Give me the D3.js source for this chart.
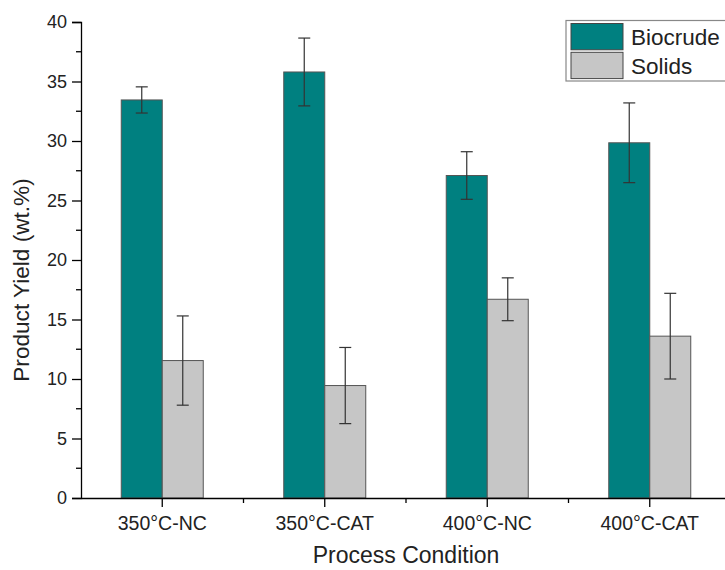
<!DOCTYPE html>
<html>
<head>
<meta charset="utf-8">
<script src="https://cdn.jsdelivr.net/npm/d3@7"></script>
<style>
  html, body { margin: 0; padding: 0; background: #fff; }
  svg { display: block; font-family: "Liberation Sans", Arial, sans-serif; }
  svg text { font-family: "Liberation Sans", Arial, sans-serif; }
</style>
</head>
<body>
<svg id="chart" width="725" height="570"></svg>
<script>
const categories = ["350°C-NC", "350°C-CAT", "400°C-NC", "400°C-CAT"];
const seriesNames = ["Biocrude", "Solids"];
const biocrude = [33.45, 35.8, 27.1, 29.85];
const biocrudeErr = [1.1, 2.85, 2.0, 3.35];
const solids = [11.55, 9.45, 16.7, 13.6];
const solidsErr = [3.75, 3.2, 1.8, 3.6];
const yTicks = [0, 5, 10, 15, 20, 25, 30, 35, 40];
const colors = ["#008080", "#c6c6c6"];

(function () {
const svg = d3.select("#chart");
const mLeft = 81, mTop = 22, mBottom = 498;
const band = 162.5;
const mRight = mLeft + band * categories.length;

const y = d3.scaleLinear().domain([0, 40]).range([mBottom, mTop]);
const x = d3.scaleBand().domain(categories).range([mLeft, mRight]).paddingInner(0).paddingOuter(0);
const groupW = 82;
const xs = d3.scaleBand().domain(seriesNames).range([0, groupW]).padding(0);

const data = categories.map((c, i) => ({
  cat: c,
  vals: [
    { s: seriesNames[0], v: biocrude[i], e: biocrudeErr[i] },
    { s: seriesNames[1], v: solids[i], e: solidsErr[i] }
  ]
}));

const groups = svg.append("g").selectAll("g").data(data).join("g")
  .attr("transform", d => `translate(${x(d.cat) + x.bandwidth() / 2 - groupW / 2},0)`);

groups.selectAll("rect").data(d => d.vals).join("rect")
  .attr("x", d => xs(d.s))
  .attr("y", d => y(d.v))
  .attr("width", xs.bandwidth())
  .attr("height", d => y(0) - y(d.v))
  .attr("fill", (d, i) => colors[i])
  .attr("stroke", "#555")
  .attr("stroke-width", 1);

// error bars
const eb = groups.selectAll("g.err").data(d => d.vals).join("g").attr("class", "err")
  .attr("stroke", "#333").attr("stroke-width", 1.2);
eb.append("line")
  .attr("x1", d => xs(d.s) + xs.bandwidth() / 2)
  .attr("x2", d => xs(d.s) + xs.bandwidth() / 2)
  .attr("y1", d => y(d.v + d.e))
  .attr("y2", d => y(d.v - d.e));
eb.append("line")
  .attr("x1", d => xs(d.s) + xs.bandwidth() / 2 - 6)
  .attr("x2", d => xs(d.s) + xs.bandwidth() / 2 + 6)
  .attr("y1", d => y(d.v + d.e))
  .attr("y2", d => y(d.v + d.e));
eb.append("line")
  .attr("x1", d => xs(d.s) + xs.bandwidth() / 2 - 6)
  .attr("x2", d => xs(d.s) + xs.bandwidth() / 2 + 6)
  .attr("y1", d => y(d.v - d.e))
  .attr("y2", d => y(d.v - d.e));

// Y axis
const yAxis = svg.append("g").attr("transform", `translate(${mLeft},0)`)
  .call(d3.axisLeft(y).tickValues(yTicks).tickSize(9).tickPadding(5).tickFormat(d3.format("d")));
yAxis.attr("font-family", null).attr("font-size", null);
yAxis.select(".domain").attr("stroke", "#000").attr("stroke-width", 1.3);
yAxis.selectAll(".tick line").attr("stroke", "#000").attr("stroke-width", 1.3);
yAxis.selectAll("text").attr("font-size", 18).attr("fill", "#222");
const yMinor = d3.range(2.5, 40, 5);
svg.append("g").selectAll("line").data(yMinor).join("line")
  .attr("x1", mLeft - 5).attr("x2", mLeft)
  .attr("y1", d => y(d)).attr("y2", d => y(d))
  .attr("stroke", "#000").attr("stroke-width", 1.3);

// X axis
const xAxis = svg.append("g").attr("transform", `translate(0,${mBottom})`)
  .call(d3.axisBottom(x).tickSize(9).tickPadding(9).tickSizeOuter(0));
xAxis.attr("font-family", null).attr("font-size", null);
xAxis.select(".domain").attr("stroke", "#000").attr("stroke-width", 1.3);
xAxis.selectAll(".tick line").attr("stroke", "#000").attr("stroke-width", 1.3);
xAxis.selectAll("text").attr("font-size", 19.5).attr("fill", "#222");
const xMinor = categories.slice(1).map(c => x(c));
svg.append("g").selectAll("line").data(xMinor).join("line")
  .attr("x1", d => d).attr("x2", d => d)
  .attr("y1", mBottom).attr("y2", mBottom + 5)
  .attr("stroke", "#000").attr("stroke-width", 1.3);

// axis titles
svg.append("text")
  .attr("transform", `translate(29,280) rotate(-90)`)
  .attr("text-anchor", "middle")
  .attr("font-size", 22.6).attr("fill", "#222")
  .text("Product Yield (wt.%)");
svg.append("text")
  .attr("x", 406).attr("y", 563)
  .attr("text-anchor", "middle")
  .attr("font-size", 23).attr("fill", "#222")
  .text("Process Condition");

// legend
const lg = svg.append("g");
lg.append("rect").attr("x", 566).attr("y", 20.5).attr("width", 200).attr("height", 60.5)
  .attr("fill", "#fff").attr("stroke", "#888").attr("stroke-width", 1.2);
seriesNames.forEach((s, i) => {
  lg.append("rect").attr("x", 571).attr("y", 23.5 + i * 28.8).attr("width", 52).attr("height", 26.3)
    .attr("fill", colors[i]).attr("stroke", "#444").attr("stroke-width", 1);
  lg.append("text").attr("x", 631).attr("y", 45 + i * 28.5)
    .attr("font-size", 22.5).attr("fill", "#222").text(s);
});
})();
</script>
</body>
</html>
